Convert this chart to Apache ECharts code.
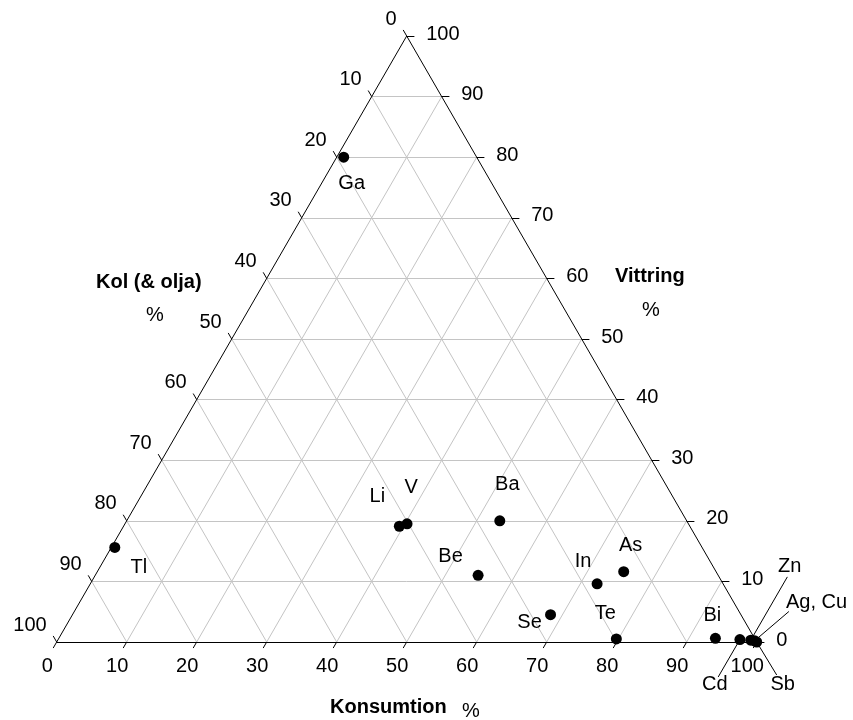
<!DOCTYPE html>
<html><head><meta charset="utf-8">
<script src="https://cdn.jsdelivr.net/npm/echarts@6/dist/echarts.min.js"></script>
<style>html,body{margin:0;padding:0;background:#fff}#c{width:853px;height:720px}</style>
</head><body><div id="c"></div>
<script>
// ---- data (ternary percentages) ----
const elements   = ['Ga', 'Tl', 'Li', 'V', 'Ba', 'Be', 'As', 'In', 'Se', 'Te', 'Bi', 'Cd', 'Zn', 'Ag, Cu', 'Sb'];
const konsumtion = [1, 0.5, 39.4, 40.3, 53.3, 54.7, 75.2, 72.4, 68.3, 79.7, 93.8, 97.4, 99.0, 99.6, 100];
const vittring   = [80, 15.6, 19.1, 19.5, 20, 11, 11.6, 9.6, 4.5, 0.5, 0.6, 0.4, 0.3, 0.2, 0];
const kol        = [19, 83.9, 41.5, 40.2, 26.7, 34.3, 13.2, 18, 27.2, 19.8, 5.6, 2.2, 0.7, 0.2, 0];
const tickValues = [0, 10, 20, 30, 40, 50, 60, 70, 80, 90, 100];
const titleKol = 'Kol (& olja)', titleVittring = 'Vittring', titleKonsumtion = 'Konsumtion';

// ---- label styling (pixel offsets from the point) ----
const labelOffsets = {
  'Ga': [8, 26], 'Tl': [24, 20], 'Li': [-22, -30], 'V': [4, -36], 'Ba': [7.5, -36],
  'Be': [-27.5, -19], 'As': [7, -26], 'In': [-14, -22], 'Se': [-21, 8], 'Te': [-11, -25],
  'Bi': [-3, -23], 'Zn': [39, -74], 'Ag, Cu': [62, -38.5], 'Cd': [-25, 45], 'Sb': [26, 42]
};
// leader line end (pixels from point)
const leaderEnds = { 'Zn': [36.6, -63.3], 'Ag, Cu': [34.3, -29.3], 'Cd': [-21.7, 37.4], 'Sb': [20, 33] };

const PX_X = 7, PX_Y = 6.06; // pixels per unit
const FONT = 'Liberation Sans, Arial, Helvetica, sans-serif';

// ternary -> cartesian (x along Konsumtion, y = Vittring)
function tp(k, v) { return [k + v / 2, v]; }

// grid lines
const gridLines = [];
for (let i = 1; i < 10; i++) {
  const t = i * 10;
  gridLines.push({ coords: [tp(0, t), tp(100 - t, t)] });          // constant Vittring
  gridLines.push({ coords: [tp(t, 0), tp(t, 100 - t)] });          // constant Konsumtion
  gridLines.push({ coords: [tp(100 - t, 0), tp(0, 100 - t)] });    // constant Kol
}
const edges = [
  { coords: [tp(0, 0), tp(100, 0)] },
  { coords: [tp(0, 0), tp(0, 100)] },
  { coords: [tp(100, 0), tp(0, 100)] }
];
// ticks
const tickLines = [];
tickValues.forEach(t => {
  const b = tp(t, 0);
  tickLines.push({ coords: [b, [b[0] - 0.5, -1]] });
  const l = tp(0, 100 - t);
  tickLines.push({ coords: [l, [l[0] - 0.5, l[1] + 1]] });
  const r = tp(100 - t, t);
  tickLines.push({ coords: [r, [r[0] + 1.1, r[1]]] });
});

// leader lines
const leaders = [];
elements.forEach((n, i) => {
  if (leaderEnds[n]) {
    const p = tp(konsumtion[i], vittring[i]);
    const e = leaderEnds[n];
    leaders.push({ coords: [p, [p[0] + e[0] / PX_X, p[1] - e[1] / PX_Y]] });
  }
});

function tickLabelSeries(pointFn, align, offset) {
  return {
    type: 'scatter', symbolSize: 0, silent: true, clip: false, z: 5,
    itemStyle: { opacity: 1, color: '#000' },
    data: tickValues.map(t => ({ value: pointFn(t), name: String(t) })),
    label: {
      show: true, position: 'inside', formatter: '{b}', color: '#000', opacity: 1,
      fontFamily: FONT, fontSize: 20, align: align, verticalAlign: 'middle',
      offset: offset, textBorderWidth: 0
    }
  };
}

const pointData = elements.map((n, i) => ({
  value: tp(konsumtion[i], vittring[i]),
  name: n,
  label: { offset: labelOffsets[n] || [0, -20] }
}));

const chart = echarts.init(document.getElementById('c'), null, { renderer: 'canvas' });
chart.setOption({
  animation: false,
  backgroundColor: '#fff',
  grid: { left: 56.7, top: 36, width: 700, height: 606 },
  xAxis: { type: 'value', min: 0, max: 100, show: false },
  yAxis: { type: 'value', min: 0, max: 100, show: false },
  series: [
    { type: 'lines', coordinateSystem: 'cartesian2d', silent: true, clip: false, z: 1,
      lineStyle: { color: '#c4c4c4', width: 1, opacity: 1 }, data: gridLines },
    { type: 'lines', coordinateSystem: 'cartesian2d', silent: true, clip: false, z: 2,
      lineStyle: { color: '#000', width: 1, opacity: 1 }, data: edges.concat(tickLines) },
    { type: 'lines', coordinateSystem: 'cartesian2d', silent: true, clip: false, z: 2,
      lineStyle: { color: '#000', width: 1, opacity: 1 }, data: leaders },
    tickLabelSeries(t => tp(t, 0), 'center', [-9.5, 24]),
    tickLabelSeries(t => tp(0, 100 - t), 'right', [-10, -17]),
    tickLabelSeries(t => tp(100 - t, t), 'left', [19.5, -2]),
    { type: 'scatter', symbol: 'circle', symbolSize: 11, clip: false, silent: true, z: 10,
      itemStyle: { color: '#000', opacity: 1 },
      label: { show: true, position: 'inside', formatter: '{b}', color: '#000', opacity: 1,
        fontFamily: FONT, fontSize: 20, textBorderWidth: 0 },
      data: pointData }
  ],
  graphic: [
    { type: 'text', left: 96, top: 272, style: { text: titleKol, font: 'bold 20px ' + FONT, fill: '#000' } },
    { type: 'text', left: 146, top: 305, style: { text: '%', font: '20px ' + FONT, fill: '#000' } },
    { type: 'text', left: 615, top: 266, style: { text: titleVittring, font: 'bold 20px ' + FONT, fill: '#000' } },
    { type: 'text', left: 642, top: 300, style: { text: '%', font: '20px ' + FONT, fill: '#000' } },
    { type: 'text', left: 330, top: 697, style: { text: titleKonsumtion, font: 'bold 20px ' + FONT, fill: '#000' } },
    { type: 'text', left: 462, top: 701, style: { text: '%', font: '20px ' + FONT, fill: '#000' } }
  ]
});
</script>
</body></html>
